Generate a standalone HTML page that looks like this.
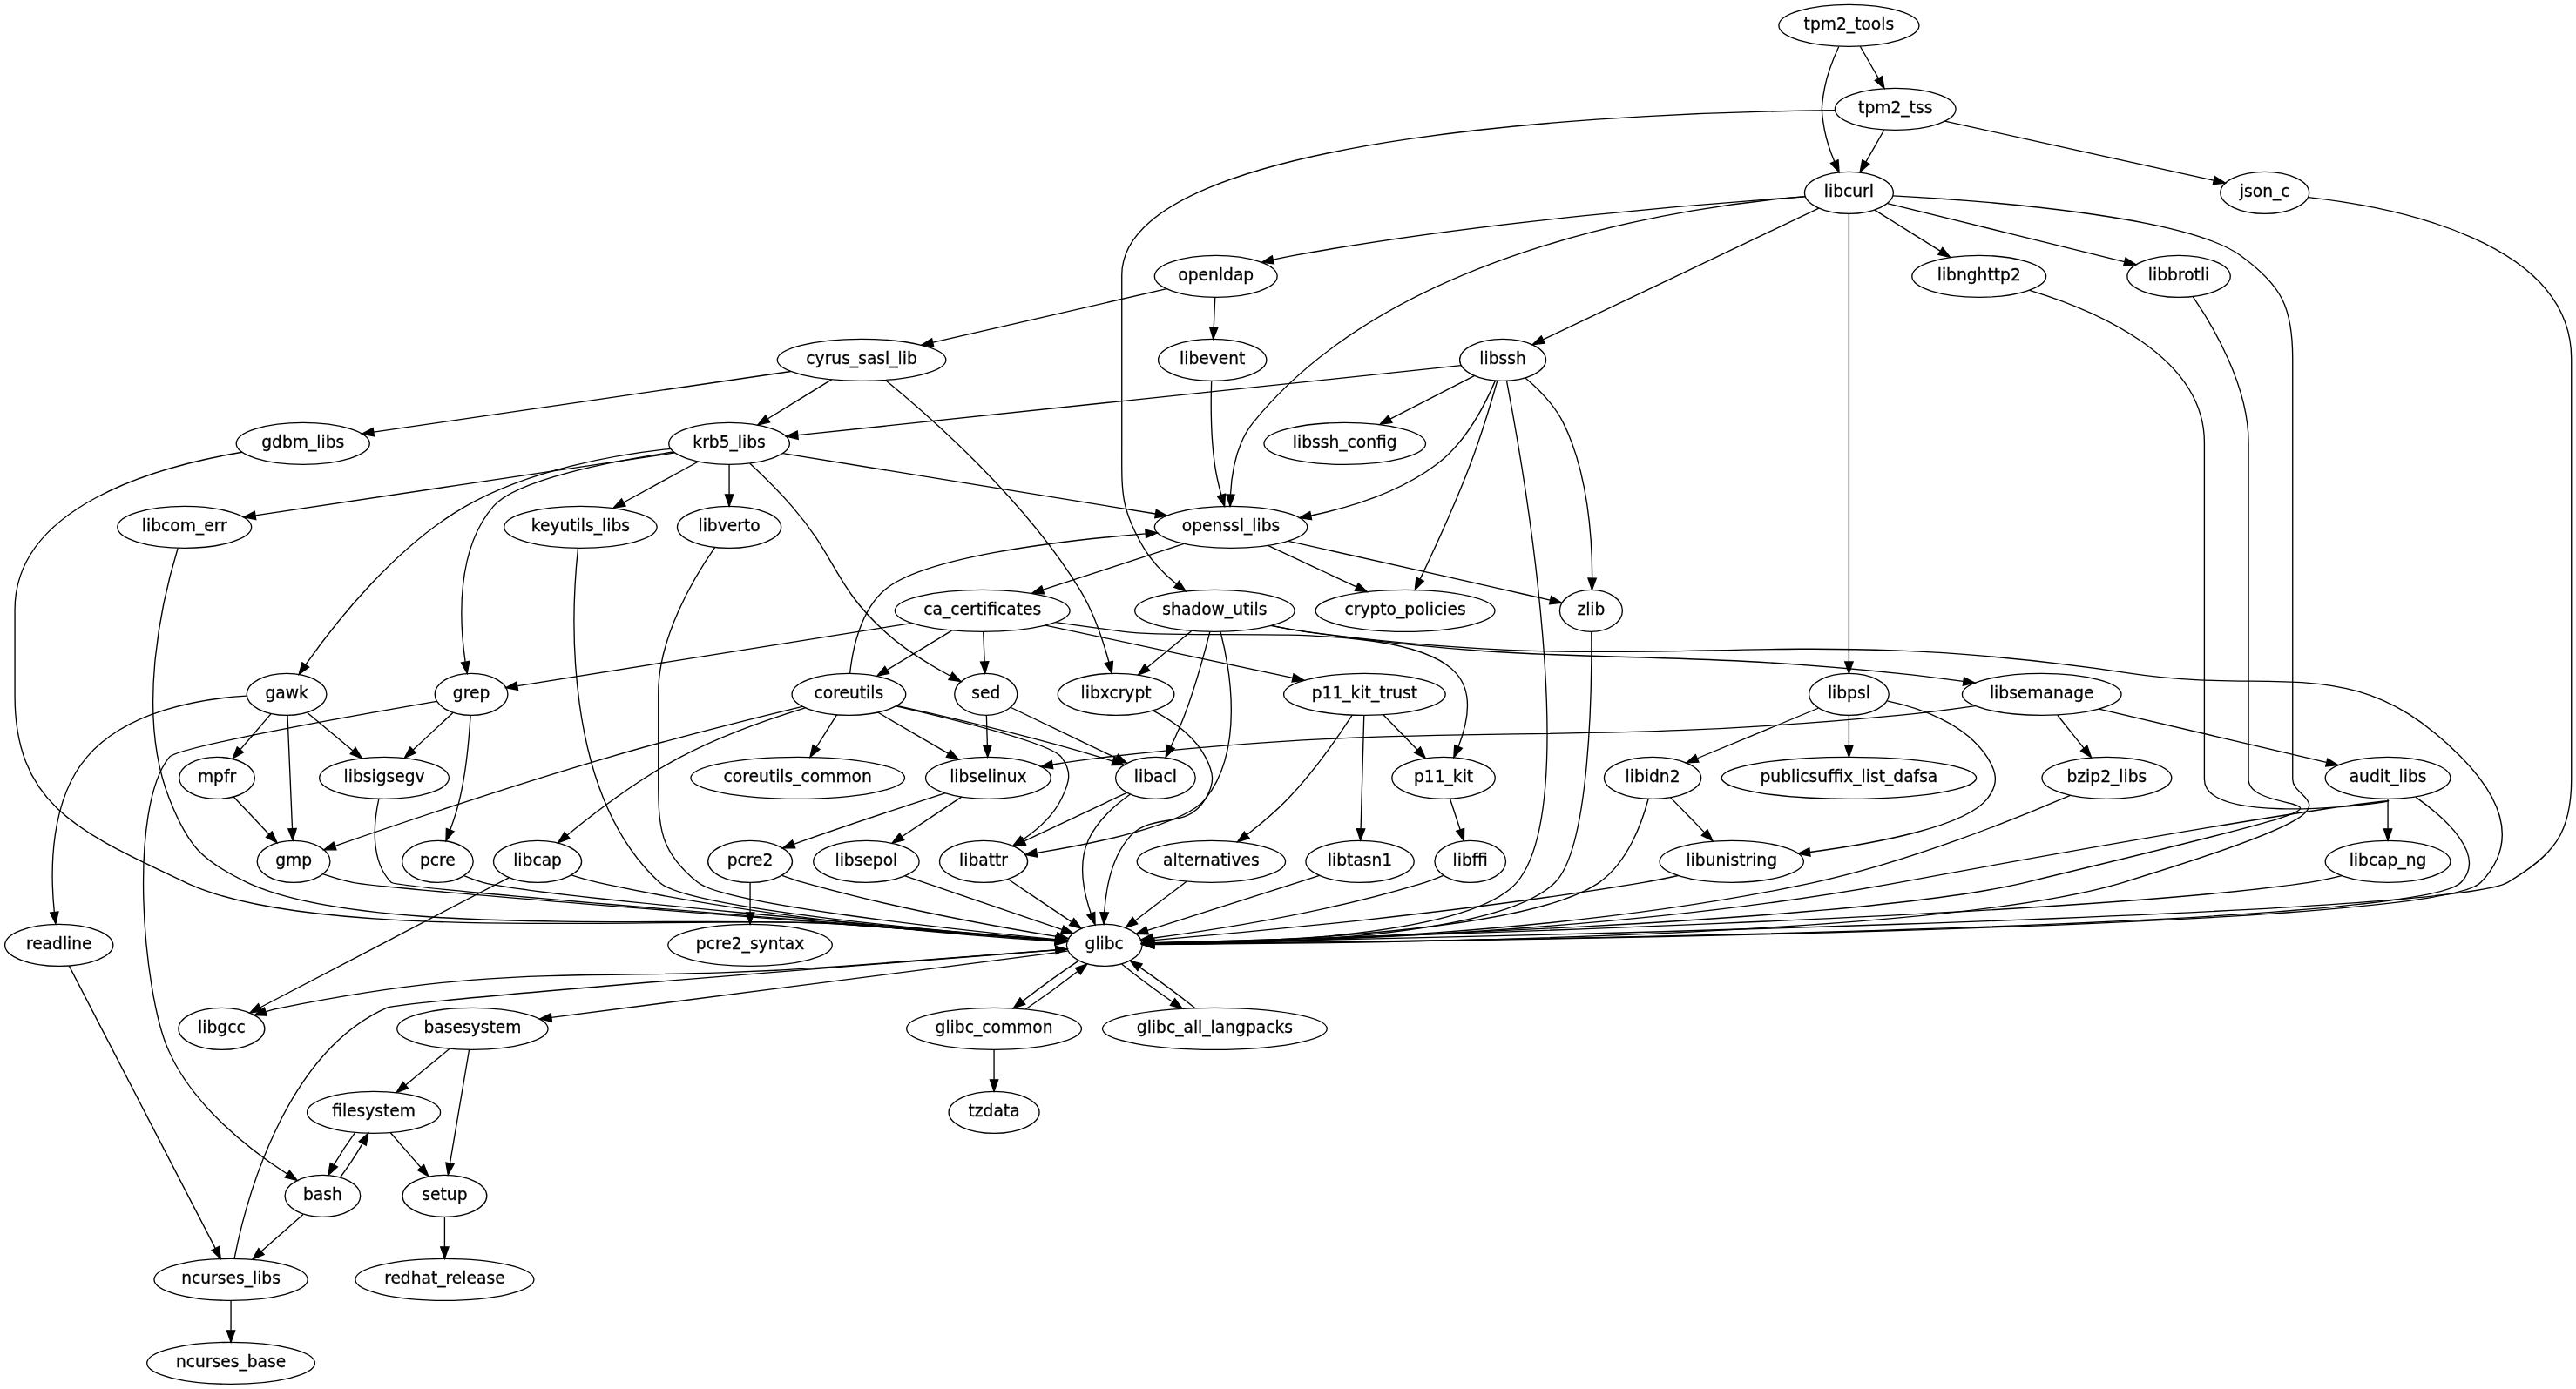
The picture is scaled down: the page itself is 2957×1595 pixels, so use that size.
<!DOCTYPE html>
<html><head><meta charset="utf-8"><title>graph</title>
<style>html,body{margin:0;padding:0;background:#fff}svg{display:block;will-change:transform}text{font-family:"DejaVu Sans","Liberation Sans",sans-serif;font-size:14px;stroke:#000;stroke-width:0.2px}</style>
</head><body>
<svg width="2957" height="1595" viewBox="0 0 2217.75 1196.25">
<g transform="scale(1 1) rotate(0) translate(4 1192)">
<polygon fill="white" stroke="transparent" points="-4,4 -4,-1192 2213.8,-1192 2213.8,4 -4,4"/>
<g>
<ellipse fill="none" stroke="black" cx="1289.8" cy="-882" rx="37.09" ry="18"/>
<text text-anchor="middle" x="1289.8" y="-878.3">libssh</text>
</g>
<g>
<ellipse fill="none" stroke="black" cx="623.8" cy="-810" rx="51.99" ry="18"/>
<text text-anchor="middle" x="623.8" y="-806.3">krb5_libs</text>
</g>
<g>
<path fill="none" stroke="black" d="M1253.99,-877.24C1145.24,-865.81 817.99,-831.41 683,-817.22"/>
<polygon fill="black" stroke="black" points="683.16,-813.72 672.85,-816.16 682.43,-820.68 683.16,-813.72"/>
</g>
<g>
<ellipse fill="none" stroke="black" cx="1055.8" cy="-738" rx="65.79" ry="18"/>
<text text-anchor="middle" x="1055.8" y="-734.3">openssl_libs</text>
</g>
<g>
<path fill="none" stroke="black" d="M1283.25,-863.97C1274.67,-843.86 1257.7,-810.78 1232.8,-792 1201.56,-768.45 1159.91,-755.31 1124.86,-748"/>
<polygon fill="black" stroke="black" points="1125.18,-744.5 1114.69,-746.01 1123.83,-751.37 1125.18,-744.5"/>
</g>
<g>
<ellipse fill="none" stroke="black" cx="1205.8" cy="-666" rx="77.19" ry="18"/>
<text text-anchor="middle" x="1205.8" y="-662.3">crypto_policies</text>
</g>
<g>
<path fill="none" stroke="black" d="M1285.11,-864.07C1279.96,-846.01 1271.17,-816.68 1261.8,-792 1248.6,-757.26 1230.65,-718.36 1218.67,-693.32"/>
<polygon fill="black" stroke="black" points="1221.73,-691.61 1214.23,-684.12 1215.42,-694.65 1221.73,-691.61"/>
</g>
<g>
<ellipse fill="none" stroke="black" cx="946.8" cy="-378" rx="32.49" ry="18"/>
<text text-anchor="middle" x="946.8" y="-374.3">glibc</text>
</g>
<g>
<path fill="none" stroke="black" d="M1293.17,-863.82C1307.32,-789.68 1358.56,-497.86 1301.8,-432 1261.91,-385.72 1074.88,-379.24 989.49,-378.75"/>
<polygon fill="black" stroke="black" points="989.37,-375.25 979.36,-378.71 989.35,-382.25 989.37,-375.25"/>
</g>
<g>
<ellipse fill="none" stroke="black" cx="1153.8" cy="-810" rx="69.59" ry="18"/>
<text text-anchor="middle" x="1153.8" y="-806.3">libssh_config</text>
</g>
<g>
<path fill="none" stroke="black" d="M1265.17,-868.32C1245.03,-857.96 1216.18,-843.11 1192.89,-831.12"/>
<polygon fill="black" stroke="black" points="1194.44,-827.98 1183.95,-826.52 1191.24,-834.21 1194.44,-827.98"/>
</g>
<g>
<ellipse fill="none" stroke="black" cx="1365.8" cy="-666" rx="27" ry="18"/>
<text text-anchor="middle" x="1365.8" y="-662.3">zlib</text>
</g>
<g>
<path fill="none" stroke="black" d="M1309.24,-866.46C1320.62,-856.85 1334.21,-843.23 1341.8,-828 1363.3,-784.81 1366.79,-727.64 1366.74,-694.33"/>
<polygon fill="black" stroke="black" points="1370.23,-693.95 1366.6,-684 1363.23,-694.05 1370.23,-693.95"/>
</g>
<g>
<ellipse fill="none" stroke="black" cx="248.8" cy="-450" rx="31.4" ry="18"/>
<text text-anchor="middle" x="248.8" y="-446.3">gmp</text>
</g>
<g>
<path fill="none" stroke="black" d="M273.89,-439.3C282.04,-436.52 291.2,-433.76 299.8,-432 329.46,-425.93 765.25,-392.7 904.42,-382.19"/>
<polygon fill="black" stroke="black" points="904.97,-385.66 914.68,-381.42 904.44,-378.68 904.97,-385.66"/>
</g>
<g>
<ellipse fill="none" stroke="black" cx="401.8" cy="-594" rx="31.4" ry="18"/>
<text text-anchor="middle" x="401.8" y="-590.3">grep</text>
</g>
<g>
<ellipse fill="none" stroke="black" cx="326.8" cy="-522" rx="55.79" ry="18"/>
<text text-anchor="middle" x="326.8" y="-518.3">libsigsegv</text>
</g>
<g>
<path fill="none" stroke="black" d="M385.89,-578.15C375.97,-568.89 362.99,-556.78 351.72,-546.26"/>
<polygon fill="black" stroke="black" points="353.95,-543.55 344.25,-539.29 349.17,-548.67 353.95,-543.55"/>
</g>
<g>
<ellipse fill="none" stroke="black" cx="273.8" cy="-162" rx="32.49" ry="18"/>
<text text-anchor="middle" x="273.8" y="-158.3">bash</text>
</g>
<g>
<path fill="none" stroke="black" d="M371.97,-587.95C305.23,-576.52 149.14,-548.95 141.8,-540 106.27,-496.71 118.57,-339.4 140.8,-288 161.55,-240.01 210.8,-201.96 243.19,-180.97"/>
<polygon fill="black" stroke="black" points="245.25,-183.8 251.84,-175.51 241.51,-177.89 245.25,-183.8"/>
</g>
<g>
<ellipse fill="none" stroke="black" cx="372.8" cy="-450" rx="30.59" ry="18"/>
<text text-anchor="middle" x="372.8" y="-446.3">pcre</text>
</g>
<g>
<path fill="none" stroke="black" d="M401.04,-575.74C399.98,-557.66 397.49,-528.54 391.8,-504 389.75,-495.2 386.71,-485.85 383.65,-477.49"/>
<polygon fill="black" stroke="black" points="386.82,-475.98 379.99,-467.88 380.28,-478.47 386.82,-475.98"/>
</g>
<g>
<ellipse fill="none" stroke="black" cx="623.8" cy="-738" rx="44.69" ry="18"/>
<text text-anchor="middle" x="623.8" y="-734.3">libverto</text>
</g>
<g>
<path fill="none" stroke="black" d="M611.45,-720.51C593.63,-695 562.8,-643.83 562.8,-595 562.8,-595 562.8,-595 562.8,-521 562.8,-478.66 563.82,-458.56 596.8,-432 620.51,-412.9 817.29,-391.61 904.94,-382.96"/>
<polygon fill="black" stroke="black" points="905.46,-386.43 915.07,-381.97 904.78,-379.46 905.46,-386.43"/>
</g>
<g>
<ellipse fill="none" stroke="black" cx="1486.8" cy="-450" rx="61.99" ry="18"/>
<text text-anchor="middle" x="1486.8" y="-446.3">libunistring</text>
</g>
<g>
<path fill="none" stroke="black" d="M1440.73,-437.87C1430.89,-435.73 1420.53,-433.64 1410.8,-432 1256.42,-405.99 1070.97,-389.07 989.13,-382.32"/>
<polygon fill="black" stroke="black" points="989,-378.8 978.74,-381.47 988.43,-385.77 989,-378.8"/>
</g>
<g>
<ellipse fill="none" stroke="black" cx="402.8" cy="-306" rx="64.99" ry="18"/>
<text text-anchor="middle" x="402.8" y="-302.3">basesystem</text>
</g>
<g>
<ellipse fill="none" stroke="black" cx="317.8" cy="-234" rx="57.39" ry="18"/>
<text text-anchor="middle" x="317.8" y="-230.3">filesystem</text>
</g>
<g>
<path fill="none" stroke="black" d="M383.08,-288.76C371.82,-279.49 357.52,-267.71 345.18,-257.55"/>
<polygon fill="black" stroke="black" points="347.35,-254.8 337.4,-251.15 342.9,-260.21 347.35,-254.8"/>
</g>
<g>
<ellipse fill="none" stroke="black" cx="378.8" cy="-162" rx="36.29" ry="18"/>
<text text-anchor="middle" x="378.8" y="-158.3">setup</text>
</g>
<g>
<path fill="none" stroke="black" d="M399.9,-287.87C395.81,-263.67 388.3,-219.21 383.43,-190.39"/>
<polygon fill="black" stroke="black" points="386.82,-189.47 381.7,-180.19 379.92,-190.63 386.82,-189.47"/>
</g>
<g>
<ellipse fill="none" stroke="black" cx="1039.8" cy="-882" rx="46.59" ry="18"/>
<text text-anchor="middle" x="1039.8" y="-878.3">libevent</text>
</g>
<g>
<path fill="none" stroke="black" d="M1038.99,-863.84C1038.42,-845.85 1038.29,-816.79 1041.8,-792 1043.03,-783.29 1045.19,-773.96 1047.46,-765.6"/>
<polygon fill="black" stroke="black" points="1050.83,-766.55 1050.22,-755.98 1044.1,-764.62 1050.83,-766.55"/>
</g>
<g>
<ellipse fill="none" stroke="black" cx="1587.8" cy="-594" rx="34.39" ry="18"/>
<text text-anchor="middle" x="1587.8" y="-590.3">libpsl</text>
</g>
<g>
<path fill="none" stroke="black" d="M1620.66,-588.32C1648.87,-582.37 1687.89,-569.12 1706.8,-540 1715.51,-526.58 1716.7,-516.57 1706.8,-504 1688.02,-480.16 1611.8,-465.8 1554.3,-458.15"/>
<polygon fill="black" stroke="black" points="1554.52,-454.65 1544.16,-456.84 1553.63,-461.59 1554.52,-454.65"/>
</g>
<g>
<ellipse fill="none" stroke="black" cx="1418.8" cy="-522" rx="41.69" ry="18"/>
<text text-anchor="middle" x="1418.8" y="-518.3">libidn2</text>
</g>
<g>
<path fill="none" stroke="black" d="M1561.39,-582.06C1533.46,-570.49 1489.11,-552.13 1457.29,-538.94"/>
<polygon fill="black" stroke="black" points="1458.43,-535.63 1447.85,-535.03 1455.75,-542.09 1458.43,-535.63"/>
</g>
<g>
<ellipse fill="none" stroke="black" cx="1587.8" cy="-522" rx="109.68" ry="18"/>
<text text-anchor="middle" x="1587.8" y="-518.3">publicsuffix_list_dafsa</text>
</g>
<g>
<path fill="none" stroke="black" d="M1587.8,-575.7C1587.8,-567.98 1587.8,-558.71 1587.8,-550.11"/>
<polygon fill="black" stroke="black" points="1591.3,-550.1 1587.8,-540.1 1584.3,-550.1 1591.3,-550.1"/>
</g>
<g>
<ellipse fill="none" stroke="black" cx="842.8" cy="-450" rx="37.89" ry="18"/>
<text text-anchor="middle" x="842.8" y="-446.3">libattr</text>
</g>
<g>
<path fill="none" stroke="black" d="M863.84,-434.83C879.51,-424.29 901.07,-409.77 918.29,-398.19"/>
<polygon fill="black" stroke="black" points="920.5,-400.92 926.84,-392.43 916.59,-395.11 920.5,-400.92"/>
</g>
<g>
<ellipse fill="none" stroke="black" cx="1587.8" cy="-1026" rx="38.19" ry="18"/>
<text text-anchor="middle" x="1587.8" y="-1022.3">libcurl</text>
</g>
<g>
<path fill="none" stroke="black" d="M1561.87,-1012.65C1508.24,-987.09 1385.08,-928.4 1324.6,-899.58"/>
<polygon fill="black" stroke="black" points="1325.98,-896.37 1315.45,-895.22 1322.97,-902.68 1325.98,-896.37"/>
</g>
<g>
<path fill="none" stroke="black" d="M1587.8,-1007.95C1587.8,-981.29 1587.8,-928.11 1587.8,-883 1587.8,-883 1587.8,-883 1587.8,-737 1587.8,-697 1587.8,-650.65 1587.8,-622.08"/>
<polygon fill="black" stroke="black" points="1591.3,-622.05 1587.8,-612.05 1584.3,-622.05 1591.3,-622.05"/>
</g>
<g>
<ellipse fill="none" stroke="black" cx="1871.8" cy="-954" rx="44.39" ry="18"/>
<text text-anchor="middle" x="1871.8" y="-950.3">libbrotli</text>
</g>
<g>
<path fill="none" stroke="black" d="M1620.93,-1016.83C1671.31,-1004.42 1767.39,-980.73 1824.91,-966.56"/>
<polygon fill="black" stroke="black" points="1825.97,-969.9 1834.84,-964.11 1824.29,-963.1 1825.97,-969.9"/>
</g>
<g>
<ellipse fill="none" stroke="black" cx="1699.8" cy="-954" rx="57.69" ry="18"/>
<text text-anchor="middle" x="1699.8" y="-950.3">libnghttp2</text>
</g>
<g>
<path fill="none" stroke="black" d="M1609.92,-1011.17C1626.03,-1001.1 1648.13,-987.29 1666.38,-975.89"/>
<polygon fill="black" stroke="black" points="1668.36,-978.77 1674.99,-970.51 1664.65,-972.84 1668.36,-978.77"/>
</g>
<g>
<path fill="none" stroke="black" d="M1549.85,-1022.77C1453.47,-1014.93 1198.14,-980.08 1074.8,-828 1060.75,-810.69 1056.42,-785.42 1055.36,-766.23"/>
<polygon fill="black" stroke="black" points="1058.85,-765.91 1055.06,-756.01 1051.85,-766.11 1058.85,-765.91"/>
</g>
<g>
<path fill="none" stroke="black" d="M1625.73,-1023.32C1703.49,-1019.21 1877.63,-1006.34 1924.8,-972 1960.63,-945.91 1969.8,-927.32 1969.8,-883 1969.8,-883 1969.8,-883 1969.8,-521 1969.8,-497.71 2051.47,-501.62 1823.8,-432 1665.32,-383.54 1144.06,-379.16 990.03,-378.94"/>
<polygon fill="black" stroke="black" points="989.59,-375.44 979.58,-378.94 989.58,-382.44 989.59,-375.44"/>
</g>
<g>
<ellipse fill="none" stroke="black" cx="1042.8" cy="-954" rx="52.79" ry="18"/>
<text text-anchor="middle" x="1042.8" y="-950.3">openldap</text>
</g>
<g>
<path fill="none" stroke="black" d="M1550.05,-1022.59C1468.95,-1017.04 1272.25,-1001.47 1109.8,-972 1104.05,-970.96 1098.06,-969.7 1092.14,-968.34"/>
<polygon fill="black" stroke="black" points="1092.82,-964.9 1082.28,-965.98 1091.19,-971.71 1092.82,-964.9"/>
</g>
<g>
<ellipse fill="none" stroke="black" cx="956.8" cy="-594" rx="50.09" ry="18"/>
<text text-anchor="middle" x="956.8" y="-590.3">libxcrypt</text>
</g>
<g>
<path fill="none" stroke="black" d="M988.84,-579.88C1005.48,-571.22 1024.28,-558.1 1033.8,-540 1041.24,-525.84 1042.05,-517.71 1033.8,-504 1016.16,-474.7 986.41,-495.28 965.8,-468 952.44,-450.32 948.01,-425.3 946.74,-406.29"/>
<polygon fill="black" stroke="black" points="950.23,-406 946.32,-396.16 943.24,-406.3 950.23,-406"/>
</g>
<g>
<path fill="none" stroke="black" d="M1883.94,-936.47C1901.47,-910.93 1931.8,-859.71 1931.8,-811 1931.8,-811 1931.8,-811 1931.8,-521 1931.8,-482.15 2114.62,-522.06 1739.8,-432 1595.33,-397.29 1132.72,-383.47 989.48,-379.96"/>
<polygon fill="black" stroke="black" points="989.42,-376.46 979.34,-379.71 989.25,-383.45 989.42,-376.46"/>
</g>
<g>
<path fill="none" stroke="black" d="M575.92,-802.77C522.52,-794.78 440.95,-779.14 420.8,-756 388.47,-718.87 391.45,-657.32 396.58,-622.06"/>
<polygon fill="black" stroke="black" points="400.06,-622.44 398.2,-612.01 393.15,-621.32 400.06,-622.44"/>
</g>
<g>
<path fill="none" stroke="black" d="M623.8,-791.7C623.8,-783.98 623.8,-774.71 623.8,-766.11"/>
<polygon fill="black" stroke="black" points="627.3,-766.1 623.8,-756.1 620.3,-766.1 627.3,-766.1"/>
</g>
<g>
<ellipse fill="none" stroke="black" cx="495.8" cy="-738" rx="65.79" ry="18"/>
<text text-anchor="middle" x="495.8" y="-734.3">keyutils_libs</text>
</g>
<g>
<path fill="none" stroke="black" d="M597.27,-794.5C578.65,-784.31 553.48,-770.55 532.87,-759.28"/>
<polygon fill="black" stroke="black" points="534.51,-756.18 524.06,-754.46 531.15,-762.33 534.51,-756.18"/>
</g>
<g>
<path fill="none" stroke="black" d="M670.03,-801.51C747.26,-788.99 902.72,-763.8 990.89,-749.52"/>
<polygon fill="black" stroke="black" points="991.46,-752.97 1000.77,-747.92 990.34,-746.06 991.46,-752.97"/>
</g>
<g>
<ellipse fill="none" stroke="black" cx="844.8" cy="-594" rx="27" ry="18"/>
<text text-anchor="middle" x="844.8" y="-590.3">sed</text>
</g>
<g>
<path fill="none" stroke="black" d="M641.52,-792.95C652.41,-782.76 666.41,-769.08 677.8,-756 717.01,-710.94 713.69,-688.29 757.8,-648 774.54,-632.7 796.35,-619.43 813.93,-609.99"/>
<polygon fill="black" stroke="black" points="815.96,-612.88 823.21,-605.16 812.73,-606.68 815.96,-612.88"/>
</g>
<g>
<ellipse fill="none" stroke="black" cx="242.8" cy="-594" rx="34.39" ry="18"/>
<text text-anchor="middle" x="242.8" y="-590.3">gawk</text>
</g>
<g>
<path fill="none" stroke="black" d="M573.43,-805.53C525.32,-800.37 452.16,-787.59 396.8,-756 336.09,-721.36 284.36,-655.42 259.18,-619.61"/>
<polygon fill="black" stroke="black" points="261.92,-617.43 253.36,-611.19 256.17,-621.41 261.92,-617.43"/>
</g>
<g>
<ellipse fill="none" stroke="black" cx="154.8" cy="-738" rx="57.69" ry="18"/>
<text text-anchor="middle" x="154.8" y="-734.3">libcom_err</text>
</g>
<g>
<path fill="none" stroke="black" d="M577.11,-802.03C491.83,-789.3 310.9,-762.3 215.92,-748.12"/>
<polygon fill="black" stroke="black" points="216.3,-744.64 205.89,-746.63 215.26,-751.56 216.3,-744.64"/>
</g>
<g>
<path fill="none" stroke="black" d="M1743.33,-942.03C1800.53,-924.7 1893.8,-885.09 1893.8,-811 1893.8,-811 1893.8,-811 1893.8,-521 1893.8,-446.86 2388.19,-571.49 1630.8,-432 1391.32,-387.89 1098.1,-380.43 989.71,-379.22"/>
<polygon fill="black" stroke="black" points="989.54,-375.71 979.51,-379.11 989.47,-382.71 989.54,-375.71"/>
</g>
<g>
<ellipse fill="none" stroke="black" cx="1238.8" cy="-522" rx="44.39" ry="18"/>
<text text-anchor="middle" x="1238.8" y="-518.3">p11_kit</text>
</g>
<g>
<ellipse fill="none" stroke="black" cx="1261.8" cy="-450" rx="30.59" ry="18"/>
<text text-anchor="middle" x="1261.8" y="-446.3">libffi</text>
</g>
<g>
<path fill="none" stroke="black" d="M1244.36,-504.05C1246.99,-496.06 1250.19,-486.33 1253.12,-477.4"/>
<polygon fill="black" stroke="black" points="1256.48,-478.38 1256.28,-467.79 1249.83,-476.2 1256.48,-478.38"/>
</g>
<g>
<ellipse fill="none" stroke="black" cx="1041.8" cy="-666" rx="68.79" ry="18"/>
<text text-anchor="middle" x="1041.8" y="-662.3">shadow_utils</text>
</g>
<g>
<path fill="none" stroke="black" d="M1046.84,-647.71C1055.08,-615.54 1067.37,-545.95 1033.8,-504 1015.74,-481.44 939.19,-465.67 888.65,-457.49"/>
<polygon fill="black" stroke="black" points="889.02,-454.01 878.6,-455.91 887.93,-460.92 889.02,-454.01"/>
</g>
<g>
<path fill="none" stroke="black" d="M1021.65,-648.41C1010.3,-639.06 995.96,-627.25 983.66,-617.12"/>
<polygon fill="black" stroke="black" points="985.86,-614.4 975.92,-610.75 981.41,-619.81 985.86,-614.4"/>
</g>
<g>
<path fill="none" stroke="black" d="M1090.26,-653.15C1099.99,-651.13 1110.18,-649.28 1119.8,-648 1433.42,-606.17 1517.92,-659.11 1830.8,-612 1959.56,-592.61 2023.48,-632.83 2114.8,-540 2148.87,-505.36 2165.38,-467.12 2131.8,-432 2091.55,-389.92 1197.31,-380.82 989.61,-379.28"/>
<polygon fill="black" stroke="black" points="989.44,-375.78 979.41,-379.2 989.39,-382.78 989.44,-375.78"/>
</g>
<g>
<ellipse fill="none" stroke="black" cx="990.8" cy="-522" rx="34.39" ry="18"/>
<text text-anchor="middle" x="990.8" y="-518.3">libacl</text>
</g>
<g>
<path fill="none" stroke="black" d="M1037.68,-648.01C1033.1,-629.91 1025.1,-600.53 1015.8,-576 1012.39,-567.02 1008.09,-557.45 1004.03,-548.95"/>
<polygon fill="black" stroke="black" points="1007.13,-547.33 999.59,-539.89 1000.85,-550.41 1007.13,-547.33"/>
</g>
<g>
<ellipse fill="none" stroke="black" cx="1753.8" cy="-594" rx="68.49" ry="18"/>
<text text-anchor="middle" x="1753.8" y="-590.3">libsemanage</text>
</g>
<g>
<path fill="none" stroke="black" d="M1090.7,-653.21C1100.3,-651.22 1110.33,-649.36 1119.8,-648 1345.16,-615.67 1404.35,-635.6 1630.8,-612 1648.8,-610.12 1668.23,-607.65 1686.21,-605.17"/>
<polygon fill="black" stroke="black" points="1686.91,-608.61 1696.32,-603.76 1685.94,-601.67 1686.91,-608.61"/>
</g>
<g>
<path fill="none" stroke="black" d="M322.13,-503.98C317.76,-483.87 314.36,-450.79 332.8,-432 337.82,-426.88 766.12,-393.08 904.32,-382.3"/>
<polygon fill="black" stroke="black" points="904.82,-385.77 914.52,-381.5 904.28,-378.79 904.82,-385.77"/>
</g>
<g>
<path fill="none" stroke="black" d="M493.64,-719.97C488.09,-667.95 479.21,-509.93 563.8,-432 588.6,-409.15 810.49,-389.51 904.74,-382.13"/>
<polygon fill="black" stroke="black" points="905.09,-385.61 914.79,-381.35 904.55,-378.63 905.09,-385.61"/>
</g>
<g>
<ellipse fill="none" stroke="black" cx="841.8" cy="-666" rx="75.29" ry="18"/>
<text text-anchor="middle" x="841.8" y="-662.3">ca_certificates</text>
</g>
<g>
<path fill="none" stroke="black" d="M780.62,-655.27C689.05,-640.7 518.9,-613.63 441.71,-601.35"/>
<polygon fill="black" stroke="black" points="441.88,-597.83 431.46,-599.72 440.78,-604.75 441.88,-597.83"/>
</g>
<g>
<path fill="none" stroke="black" d="M904.78,-656.06C923.74,-653.41 944.61,-650.54 963.8,-648 1027.3,-639.58 1207.42,-660.04 1249.8,-612 1264.77,-595.02 1259.18,-568.61 1251.56,-548.96"/>
<polygon fill="black" stroke="black" points="1254.74,-547.5 1247.61,-539.66 1248.3,-550.24 1254.74,-547.5"/>
</g>
<g>
<path fill="none" stroke="black" d="M842.54,-647.7C842.87,-639.98 843.27,-630.71 843.63,-622.11"/>
<polygon fill="black" stroke="black" points="847.13,-622.25 844.06,-612.1 840.14,-621.95 847.13,-622.25"/>
</g>
<g>
<ellipse fill="none" stroke="black" cx="1170.8" cy="-594" rx="69.59" ry="18"/>
<text text-anchor="middle" x="1170.8" y="-590.3">p11_kit_trust</text>
</g>
<g>
<path fill="none" stroke="black" d="M896.12,-653.44C954.65,-640.99 1047.6,-621.21 1108.9,-608.17"/>
<polygon fill="black" stroke="black" points="1109.78,-611.56 1118.83,-606.06 1108.32,-604.71 1109.78,-611.56"/>
</g>
<g>
<ellipse fill="none" stroke="black" cx="726.8" cy="-594" rx="48.99" ry="18"/>
<text text-anchor="middle" x="726.8" y="-590.3">coreutils</text>
</g>
<g>
<path fill="none" stroke="black" d="M815.41,-648.94C798.92,-638.9 777.55,-625.89 759.92,-615.16"/>
<polygon fill="black" stroke="black" points="761.46,-612 751.09,-609.79 757.82,-617.98 761.46,-612"/>
</g>
<g>
<ellipse fill="none" stroke="black" cx="851.8" cy="-234" rx="38.99" ry="18"/>
<text text-anchor="middle" x="851.8" y="-230.3">tzdata</text>
</g>
<g>
<ellipse fill="none" stroke="black" cx="641.8" cy="-450" rx="36.29" ry="18"/>
<text text-anchor="middle" x="641.8" y="-446.3">pcre2</text>
</g>
<g>
<path fill="none" stroke="black" d="M669.3,-438.06C675.34,-435.88 681.74,-433.73 687.8,-432 763.57,-410.38 854.19,-393.92 905.67,-385.43"/>
<polygon fill="black" stroke="black" points="906.42,-388.85 915.73,-383.78 905.3,-381.94 906.42,-388.85"/>
</g>
<g>
<ellipse fill="none" stroke="black" cx="641.8" cy="-378" rx="70.69" ry="18"/>
<text text-anchor="middle" x="641.8" y="-374.3">pcre2_syntax</text>
</g>
<g>
<path fill="none" stroke="black" d="M641.8,-431.7C641.8,-423.98 641.8,-414.71 641.8,-406.11"/>
<polygon fill="black" stroke="black" points="645.3,-406.1 641.8,-396.1 638.3,-406.1 645.3,-406.1"/>
</g>
<g>
<ellipse fill="none" stroke="black" cx="194.8" cy="-90" rx="66.09" ry="18"/>
<text text-anchor="middle" x="194.8" y="-86.3">ncurses_libs</text>
</g>
<g>
<path fill="none" stroke="black" d="M257.04,-146.15C246.56,-136.87 232.85,-124.72 220.96,-114.18"/>
<polygon fill="black" stroke="black" points="223.27,-111.55 213.46,-107.54 218.62,-116.79 223.27,-111.55"/>
</g>
<g>
<path fill="none" stroke="black" d="M289.15,-178.36C295.47,-186.8 302.47,-197.5 308.11,-207.18"/>
<polygon fill="black" stroke="black" points="305.11,-209 313.02,-216.05 311.24,-205.61 305.11,-209"/>
</g>
<g>
<path fill="none" stroke="black" d="M1015.29,-723.75C980.92,-712.51 931.38,-696.3 894.03,-684.09"/>
<polygon fill="black" stroke="black" points="894.92,-680.7 884.33,-680.91 892.75,-687.35 894.92,-680.7"/>
</g>
<g>
<path fill="none" stroke="black" d="M1087.61,-722.15C1109.78,-711.81 1139.58,-697.9 1163.71,-686.64"/>
<polygon fill="black" stroke="black" points="1165.41,-689.71 1172.99,-682.31 1162.45,-683.36 1165.41,-689.71"/>
</g>
<g>
<path fill="none" stroke="black" d="M1105.08,-726.01C1152.84,-715.34 1227.3,-698.65 1291.8,-684 1304.45,-681.13 1318.31,-677.95 1330.59,-675.13"/>
<polygon fill="black" stroke="black" points="1331.5,-678.51 1340.46,-672.85 1329.93,-671.69 1331.5,-678.51"/>
</g>
<g>
<ellipse fill="none" stroke="black" cx="1166.8" cy="-450" rx="46.59" ry="18"/>
<text text-anchor="middle" x="1166.8" y="-446.3">libtasn1</text>
</g>
<g>
<path fill="none" stroke="black" d="M1131.94,-437.91C1091.53,-425.05 1025.21,-403.95 983.88,-390.8"/>
<polygon fill="black" stroke="black" points="984.78,-387.41 974.19,-387.72 982.66,-394.09 984.78,-387.41"/>
</g>
<g>
<ellipse fill="none" stroke="black" cx="851.8" cy="-306" rx="75.29" ry="18"/>
<text text-anchor="middle" x="851.8" y="-302.3">glibc_common</text>
</g>
<g>
<path fill="none" stroke="black" d="M851.8,-287.7C851.8,-279.98 851.8,-270.71 851.8,-262.11"/>
<polygon fill="black" stroke="black" points="855.3,-262.1 851.8,-252.1 848.3,-262.1 855.3,-262.1"/>
</g>
<g>
<path fill="none" stroke="black" d="M879.12,-322.89C893.35,-332.55 910.44,-345.02 923.96,-355.55"/>
<polygon fill="black" stroke="black" points="921.85,-358.34 931.86,-361.81 926.2,-352.86 921.85,-358.34"/>
</g>
<g>
<ellipse fill="none" stroke="black" cx="256.8" cy="-810" rx="57.39" ry="18"/>
<text text-anchor="middle" x="256.8" y="-806.3">gdbm_libs</text>
</g>
<g>
<path fill="none" stroke="black" d="M204.5,-802.55C131.74,-790.32 8.8,-756.43 8.8,-667 8.8,-667 8.8,-667 8.8,-593 8.8,-496.1 68.43,-473.9 155.8,-432 269.44,-377.5 596.07,-404.75 721.8,-396 785.61,-391.56 859.55,-385.87 904.74,-382.33"/>
<polygon fill="black" stroke="black" points="905.07,-385.81 914.76,-381.54 904.52,-378.83 905.07,-385.81"/>
</g>
<g>
<path fill="none" stroke="black" d="M197.74,-108C206.92,-154.76 239.91,-284.44 328.8,-324 342,-329.87 767.57,-363.16 904.68,-373.76"/>
<polygon fill="black" stroke="black" points="904.56,-377.26 914.8,-374.54 905.1,-370.28 904.56,-377.26"/>
</g>
<g>
<ellipse fill="none" stroke="black" cx="194.8" cy="-18" rx="72.29" ry="18"/>
<text text-anchor="middle" x="194.8" y="-14.3">ncurses_base</text>
</g>
<g>
<path fill="none" stroke="black" d="M194.8,-71.7C194.8,-63.98 194.8,-54.71 194.8,-46.11"/>
<polygon fill="black" stroke="black" points="198.3,-46.1 194.8,-36.1 191.3,-46.1 198.3,-46.1"/>
</g>
<g>
<path fill="none" stroke="black" d="M866.03,-582.82C889.9,-571.37 929,-552.63 957.06,-539.17"/>
<polygon fill="black" stroke="black" points="958.62,-542.31 966.12,-534.83 955.59,-536 958.62,-542.31"/>
</g>
<g>
<ellipse fill="none" stroke="black" cx="846.8" cy="-522" rx="53.89" ry="18"/>
<text text-anchor="middle" x="846.8" y="-518.3">libselinux</text>
</g>
<g>
<path fill="none" stroke="black" d="M845.29,-575.7C845.51,-567.98 845.78,-558.71 846.02,-550.11"/>
<polygon fill="black" stroke="black" points="849.52,-550.2 846.31,-540.1 842.52,-550 849.52,-550.2"/>
</g>
<g>
<ellipse fill="none" stroke="black" cx="741.8" cy="-450" rx="45.49" ry="18"/>
<text text-anchor="middle" x="741.8" y="-446.3">libsepol</text>
</g>
<g>
<path fill="none" stroke="black" d="M775.19,-437.6C812.27,-424.94 871.92,-404.57 910.23,-391.49"/>
<polygon fill="black" stroke="black" points="911.63,-394.71 919.96,-388.16 909.36,-388.08 911.63,-394.71"/>
</g>
<g>
<ellipse fill="none" stroke="black" cx="1587.8" cy="-1170" rx="60.39" ry="18"/>
<text text-anchor="middle" x="1587.8" y="-1166.3">tpm2_tools</text>
</g>
<g>
<path fill="none" stroke="black" d="M1579.08,-1151.83C1574.42,-1141.69 1569.17,-1128.44 1566.8,-1116 1563.8,-1100.28 1563.8,-1095.72 1566.8,-1080 1568.53,-1070.92 1571.8,-1061.4 1575.24,-1052.98"/>
<polygon fill="black" stroke="black" points="1578.51,-1054.26 1579.3,-1043.69 1572.09,-1051.46 1578.51,-1054.26"/>
</g>
<g>
<ellipse fill="none" stroke="black" cx="1627.8" cy="-1098" rx="51.99" ry="18"/>
<text text-anchor="middle" x="1627.8" y="-1094.3">tpm2_tss</text>
</g>
<g>
<path fill="none" stroke="black" d="M1597.48,-1152.05C1602.2,-1143.8 1607.97,-1133.7 1613.2,-1124.54"/>
<polygon fill="black" stroke="black" points="1616.28,-1126.21 1618.2,-1115.79 1610.2,-1122.73 1616.28,-1126.21"/>
</g>
<g>
<ellipse fill="none" stroke="black" cx="1809.8" cy="-522" rx="55.79" ry="18"/>
<text text-anchor="middle" x="1809.8" y="-518.3">bzip2_libs</text>
</g>
<g>
<path fill="none" stroke="black" d="M1778.33,-506.96C1731.36,-486.69 1639.65,-449.71 1557.8,-432 1347.98,-386.62 1089.68,-379.84 989.4,-379.02"/>
<polygon fill="black" stroke="black" points="989.38,-375.51 979.35,-378.95 989.33,-382.51 989.38,-375.51"/>
</g>
<g>
<ellipse fill="none" stroke="black" cx="1038.8" cy="-450" rx="63.89" ry="18"/>
<text text-anchor="middle" x="1038.8" y="-446.3">alternatives</text>
</g>
<g>
<ellipse fill="none" stroke="black" cx="682.8" cy="-522" rx="92.08" ry="18"/>
<text text-anchor="middle" x="682.8" y="-518.3">coreutils_common</text>
</g>
<g>
<ellipse fill="none" stroke="black" cx="737.8" cy="-882" rx="72.59" ry="18"/>
<text text-anchor="middle" x="737.8" y="-878.3">cyrus_sasl_lib</text>
</g>
<g>
<path fill="none" stroke="black" d="M758.59,-864.5C796.81,-833.16 878.58,-761.25 925.8,-684 937.62,-664.65 945.73,-640.17 950.68,-621.79"/>
<polygon fill="black" stroke="black" points="954.09,-622.56 953.17,-612.01 947.31,-620.84 954.09,-622.56"/>
</g>
<g>
<path fill="none" stroke="black" d="M711.93,-865.12C695.7,-855.15 674.63,-842.21 657.15,-831.48"/>
<polygon fill="black" stroke="black" points="658.74,-828.35 648.39,-826.1 655.08,-834.32 658.74,-828.35"/>
</g>
<g>
<path fill="none" stroke="black" d="M676.88,-872.13C584.53,-858.7 410.11,-833.31 317.75,-819.87"/>
<polygon fill="black" stroke="black" points="318.11,-816.39 307.71,-818.41 317.1,-823.31 318.11,-816.39"/>
</g>
<g>
<path fill="none" stroke="black" d="M1618.11,-1080.05C1613.4,-1071.8 1607.63,-1061.7 1602.39,-1052.54"/>
<polygon fill="black" stroke="black" points="1605.39,-1050.73 1597.39,-1043.79 1599.31,-1054.21 1605.39,-1050.73"/>
</g>
<g>
<path fill="none" stroke="black" d="M1575.81,-1096.97C1419.07,-1095.48 961.8,-1080.39 961.8,-955 961.8,-955 961.8,-955 961.8,-809 961.8,-768.55 960.25,-754.84 980.8,-720 987.77,-708.18 998.32,-697.65 1008.7,-689.15"/>
<polygon fill="black" stroke="black" points="1011.15,-691.68 1016.92,-682.79 1006.87,-686.15 1011.15,-691.68"/>
</g>
<g>
<ellipse fill="none" stroke="black" cx="1945.8" cy="-1026" rx="38.19" ry="18"/>
<text text-anchor="middle" x="1945.8" y="-1022.3">json_c</text>
</g>
<g>
<path fill="none" stroke="black" d="M1670.35,-1087.63C1730.67,-1074.36 1840.47,-1050.19 1901.64,-1036.72"/>
<polygon fill="black" stroke="black" points="1902.74,-1040.06 1911.75,-1034.49 1901.23,-1033.23 1902.74,-1040.06"/>
</g>
<g>
<ellipse fill="none" stroke="black" cx="1041.8" cy="-306" rx="96.68" ry="18"/>
<text text-anchor="middle" x="1041.8" y="-302.3">glibc_all_langpacks</text>
</g>
<g>
<path fill="none" stroke="black" d="M1024.76,-323.88C1011.56,-334.43 993.16,-348.02 977.48,-358.81"/>
<polygon fill="black" stroke="black" points="975.42,-355.98 969.1,-364.49 979.34,-361.78 975.42,-355.98"/>
</g>
<g>
<ellipse fill="none" stroke="black" cx="378.8" cy="-90" rx="76.89" ry="18"/>
<text text-anchor="middle" x="378.8" y="-86.3">redhat_release</text>
</g>
<g>
<ellipse fill="none" stroke="black" cx="182.8" cy="-522" rx="32.49" ry="18"/>
<text text-anchor="middle" x="182.8" y="-518.3">mpfr</text>
</g>
<g>
<path fill="none" stroke="black" d="M197.12,-505.81C206.03,-496.36 217.64,-484.04 227.6,-473.48"/>
<polygon fill="black" stroke="black" points="230.19,-475.84 234.5,-466.16 225.1,-471.03 230.19,-475.84"/>
</g>
<g>
<ellipse fill="none" stroke="black" cx="458.8" cy="-450" rx="37.89" ry="18"/>
<text text-anchor="middle" x="458.8" y="-446.3">libcap</text>
</g>
<g>
<path fill="none" stroke="black" d="M915.2,-372.93C829.15,-361.86 589.22,-330.99 470.75,-315.74"/>
<polygon fill="black" stroke="black" points="471.07,-312.26 460.71,-314.45 470.18,-319.2 471.07,-312.26"/>
</g>
<g>
<path fill="none" stroke="black" d="M924.5,-364.49C910.12,-354.95 891.59,-341.56 876.75,-330.1"/>
<polygon fill="black" stroke="black" points="878.53,-327.04 868.51,-323.62 874.21,-332.55 878.53,-327.04"/>
</g>
<g>
<path fill="none" stroke="black" d="M961.73,-361.81C973.55,-352.24 990.32,-339.73 1005.51,-329.08"/>
<polygon fill="black" stroke="black" points="1007.51,-331.95 1013.75,-323.38 1003.53,-326.19 1007.51,-331.95"/>
</g>
<g>
<ellipse fill="none" stroke="black" cx="186.8" cy="-306" rx="37.09" ry="18"/>
<text text-anchor="middle" x="186.8" y="-302.3">libgcc</text>
</g>
<g>
<path fill="none" stroke="black" d="M914.75,-374.57C871.11,-371.26 790.55,-365.15 721.8,-360 506.69,-343.87 449.29,-366.43 237.8,-324 233.58,-323.15 229.22,-322.06 224.92,-320.84"/>
<polygon fill="black" stroke="black" points="225.64,-317.4 215.05,-317.8 223.58,-324.09 225.64,-317.4"/>
</g>
<g>
<path fill="none" stroke="black" d="M1186.91,-576.41C1195.67,-567.39 1206.65,-556.09 1216.25,-546.21"/>
<polygon fill="black" stroke="black" points="1218.81,-548.6 1223.26,-538.99 1213.79,-543.72 1218.81,-548.6"/>
</g>
<g>
<path fill="none" stroke="black" d="M1170.31,-575.87C1169.63,-551.67 1168.38,-507.21 1167.57,-478.39"/>
<polygon fill="black" stroke="black" points="1171.06,-478.09 1167.28,-468.19 1164.06,-478.28 1171.06,-478.09"/>
</g>
<g>
<path fill="none" stroke="black" d="M1160.05,-575.93C1147.86,-557.23 1126.8,-526.87 1104.8,-504 1094.14,-492.92 1081.17,-482.05 1069.56,-473.06"/>
<polygon fill="black" stroke="black" points="1071.48,-470.13 1061.4,-466.87 1067.25,-475.7 1071.48,-470.13"/>
</g>
<g>
<path fill="none" stroke="black" d="M686.71,-583.5C645.05,-573.43 578.05,-556.71 520.8,-540 435.39,-515.07 336.39,-481.47 284.59,-463.53"/>
<polygon fill="black" stroke="black" points="285.47,-460.13 274.88,-460.16 283.18,-466.74 285.47,-460.13"/>
</g>
<g>
<path fill="none" stroke="black" d="M767.55,-583.91C818.78,-572.09 901.1,-551.57 909.8,-540 919.41,-527.21 916.77,-518.4 909.8,-504 902.76,-489.47 889.59,-477.71 876.78,-468.99"/>
<polygon fill="black" stroke="black" points="878.36,-465.85 868.04,-463.45 874.61,-471.76 878.36,-465.85"/>
</g>
<g>
<path fill="none" stroke="black" d="M727.77,-612.28C729.9,-632.63 736.63,-665.96 757.8,-684 790.81,-712.14 905.17,-726.02 982.23,-732.34"/>
<polygon fill="black" stroke="black" points="982.13,-735.84 992.38,-733.15 982.68,-728.86 982.13,-735.84"/>
</g>
<g>
<path fill="none" stroke="black" d="M716.37,-576.41C711.13,-568.08 704.67,-557.8 698.82,-548.49"/>
<polygon fill="black" stroke="black" points="701.74,-546.56 693.45,-539.96 695.81,-550.29 701.74,-546.56"/>
</g>
<g>
<path fill="none" stroke="black" d="M768.13,-584.15C811.85,-574.48 882.68,-557.97 942.8,-540 946.4,-538.92 950.12,-537.74 953.84,-536.5"/>
<polygon fill="black" stroke="black" points="955.21,-539.73 963.54,-533.18 952.94,-533.11 955.21,-539.73"/>
</g>
<g>
<path fill="none" stroke="black" d="M689.24,-582.41C659.23,-573.22 616.59,-558.49 581.8,-540 545.77,-520.86 508.36,-492.34 484.39,-472.77"/>
<polygon fill="black" stroke="black" points="486.44,-469.92 476.5,-466.25 481.98,-475.32 486.44,-469.92"/>
</g>
<g>
<path fill="none" stroke="black" d="M751.66,-578.5C769.2,-568.26 792.93,-554.42 812.3,-543.12"/>
<polygon fill="black" stroke="black" points="814.26,-546.03 821.14,-537.97 810.73,-539.98 814.26,-546.03"/>
</g>
<g>
<ellipse fill="none" stroke="black" cx="2051.8" cy="-522" rx="53.89" ry="18"/>
<text text-anchor="middle" x="2051.8" y="-518.3">audit_libs</text>
</g>
<g>
<path fill="none" stroke="black" d="M2075.88,-505.49C2101.95,-486.88 2137.03,-455.27 2114.8,-432 2075.17,-390.53 1194.68,-380.97 989.34,-379.3"/>
<polygon fill="black" stroke="black" points="989.27,-375.8 979.24,-379.22 989.22,-382.8 989.27,-375.8"/>
</g>
<g>
<ellipse fill="none" stroke="black" cx="2051.8" cy="-450" rx="53.89" ry="18"/>
<text text-anchor="middle" x="2051.8" y="-446.3">libcap_ng</text>
</g>
<g>
<path fill="none" stroke="black" d="M2051.8,-503.7C2051.8,-495.98 2051.8,-486.71 2051.8,-478.11"/>
<polygon fill="black" stroke="black" points="2055.3,-478.1 2051.8,-468.1 2048.3,-478.1 2055.3,-478.1"/>
</g>
<g>
<path fill="none" stroke="black" d="M301.53,-216.41C295.44,-208.16 288.83,-198.01 283.46,-188.78"/>
<polygon fill="black" stroke="black" points="286.48,-187.01 278.57,-179.96 280.36,-190.4 286.48,-187.01"/>
</g>
<g>
<path fill="none" stroke="black" d="M332.25,-216.41C339.96,-207.57 349.58,-196.53 358.07,-186.79"/>
<polygon fill="black" stroke="black" points="360.93,-188.83 364.86,-178.99 355.65,-184.23 360.93,-188.83"/>
</g>
<g>
<path fill="none" stroke="black" d="M378.8,-143.7C378.8,-135.98 378.8,-126.71 378.8,-118.11"/>
<polygon fill="black" stroke="black" points="382.3,-118.1 378.8,-108.1 375.3,-118.1 382.3,-118.1"/>
</g>
<g>
<path fill="none" stroke="black" d="M1366.09,-647.73C1366.52,-599.04 1364.97,-462.28 1334.8,-432 1287.19,-384.23 1080.34,-378.67 989.66,-378.59"/>
<polygon fill="black" stroke="black" points="989.45,-375.09 979.45,-378.6 989.46,-382.09 989.45,-375.09"/>
</g>
<g>
<path fill="none" stroke="black" d="M1017.46,-432.76C1004.36,-422.8 987.47,-409.95 973.49,-399.31"/>
<polygon fill="black" stroke="black" points="975.3,-396.29 965.22,-393.02 971.06,-401.86 975.3,-396.29"/>
</g>
<g>
<path fill="none" stroke="black" d="M966.02,-509.28C941.88,-497.86 904.94,-480.39 877.8,-467.56"/>
<polygon fill="black" stroke="black" points="879.18,-464.34 868.64,-463.23 876.19,-470.67 879.18,-464.34"/>
</g>
<g>
<path fill="none" stroke="black" d="M969.15,-507.96C955.95,-498.67 940.22,-484.85 932.8,-468 924.01,-448.07 928.92,-423.5 935.23,-405.23"/>
<polygon fill="black" stroke="black" points="938.53,-406.38 938.8,-395.79 931.99,-403.9 938.53,-406.38"/>
</g>
<g>
<path fill="none" stroke="black" d="M1238.6,-437.89C1233.48,-435.72 1228.02,-433.62 1222.8,-432 1141.57,-406.84 1043.03,-391.37 988.39,-384.06"/>
<polygon fill="black" stroke="black" points="988.76,-380.58 978.39,-382.75 987.85,-387.52 988.76,-380.58"/>
</g>
<g>
<path fill="none" stroke="black" d="M487.94,-438.37C495.32,-435.98 503.29,-433.67 510.8,-432 653.1,-400.41 826,-386.44 904.45,-381.4"/>
<polygon fill="black" stroke="black" points="904.67,-384.89 914.43,-380.77 904.23,-377.9 904.67,-384.89"/>
</g>
<g>
<path fill="none" stroke="black" d="M434.18,-436.15C385.22,-410.59 275.61,-353.37 220.21,-324.44"/>
<polygon fill="black" stroke="black" points="221.65,-321.25 211.16,-319.72 218.41,-327.45 221.65,-321.25"/>
</g>
<g>
<path fill="none" stroke="black" d="M1434.23,-505.12C1442.84,-496.24 1453.76,-485.01 1463.41,-475.08"/>
<polygon fill="black" stroke="black" points="1466.02,-477.41 1470.48,-467.8 1461,-472.53 1466.02,-477.41"/>
</g>
<g>
<path fill="none" stroke="black" d="M1415.12,-504.07C1409.67,-483.4 1397.34,-449.11 1372.8,-432 1311.51,-389.28 1084.94,-380.96 989.56,-379.37"/>
<polygon fill="black" stroke="black" points="989.45,-375.87 979.4,-379.22 989.35,-382.87 989.45,-375.87"/>
</g>
<g>
<path fill="none" stroke="black" d="M809.41,-508.92C777.12,-498.39 729.25,-482.56 687.8,-468 685.08,-467.05 682.29,-466.05 679.48,-465.04"/>
<polygon fill="black" stroke="black" points="680.56,-461.71 669.96,-461.57 678.16,-468.28 680.56,-461.71"/>
</g>
<g>
<path fill="none" stroke="black" d="M823.75,-505.64C808.78,-495.65 789.08,-482.52 772.74,-471.63"/>
<polygon fill="black" stroke="black" points="774.33,-468.48 764.06,-465.85 770.44,-474.31 774.33,-468.48"/>
</g>
<g>
<path fill="none" stroke="black" d="M395.47,-437.7C400.72,-435.49 406.36,-433.42 411.8,-432 459.09,-419.68 787.06,-392.05 904.82,-382.4"/>
<polygon fill="black" stroke="black" points="905.21,-385.88 914.89,-381.58 904.64,-378.9 905.21,-385.88"/>
</g>
<g>
<path fill="none" stroke="black" d="M1042.05,-935.7C1041.72,-927.98 1041.33,-918.71 1040.96,-910.11"/>
<polygon fill="black" stroke="black" points="1044.45,-909.95 1040.53,-900.1 1037.46,-910.25 1044.45,-909.95"/>
</g>
<g>
<path fill="none" stroke="black" d="M1000.39,-943.27C948.17,-931.28 859.06,-910.83 799.32,-897.12"/>
<polygon fill="black" stroke="black" points="799.79,-893.64 789.26,-894.81 798.22,-900.46 799.79,-893.64"/>
</g>
<g>
<path fill="none" stroke="black" d="M1983.34,-1021.97C2056.23,-1013.83 2209.8,-984.61 2209.8,-883 2209.8,-883 2209.8,-883 2209.8,-521 2209.8,-474.5 2194.9,-455.53 2154.8,-432 2103.57,-401.95 1198.83,-383.61 989.69,-379.76"/>
<polygon fill="black" stroke="black" points="989.48,-376.26 979.42,-379.57 989.36,-383.26 989.48,-376.26"/>
</g>
<g>
<path fill="none" stroke="black" d="M243.52,-575.87C244.54,-551.67 246.42,-507.21 247.64,-478.39"/>
<polygon fill="black" stroke="black" points="251.14,-478.33 248.07,-468.19 244.15,-478.03 251.14,-478.33"/>
</g>
<g>
<path fill="none" stroke="black" d="M260.61,-578.15C271.91,-568.74 286.75,-556.37 299.51,-545.73"/>
<polygon fill="black" stroke="black" points="302.1,-548.13 307.54,-539.04 297.62,-542.76 302.1,-548.13"/>
</g>
<g>
<path fill="none" stroke="black" d="M229.18,-577.12C221.43,-568.08 211.58,-556.58 202.95,-546.52"/>
<polygon fill="black" stroke="black" points="205.52,-544.14 196.36,-538.82 200.21,-548.69 205.52,-544.14"/>
</g>
<g>
<ellipse fill="none" stroke="black" cx="46.8" cy="-378" rx="46.59" ry="18"/>
<text text-anchor="middle" x="46.8" y="-374.3">readline</text>
</g>
<g>
<path fill="none" stroke="black" d="M208.28,-592.65C168.77,-590.26 105.11,-579.93 70.8,-540 38.75,-502.71 39.18,-441.73 42.74,-406.49"/>
<polygon fill="black" stroke="black" points="46.23,-406.78 43.91,-396.44 39.28,-405.97 46.23,-406.78"/>
</g>
<g>
<path fill="none" stroke="black" d="M2012.14,-437.72C2002.91,-435.47 1993.06,-433.38 1983.8,-432 1787,-402.65 1158.5,-384.51 989.16,-380.07"/>
<polygon fill="black" stroke="black" points="989.23,-376.57 979.14,-379.81 989.05,-383.57 989.23,-376.57"/>
</g>
<g>
<path fill="none" stroke="black" d="M149.13,-719.85C137,-680.2 111.99,-579.78 141.8,-504 157.79,-463.32 169.35,-450.84 208.8,-432 311.91,-382.73 607.82,-404.31 721.8,-396 785.59,-391.35 859.54,-385.72 904.74,-382.25"/>
<polygon fill="black" stroke="black" points="905.05,-385.73 914.76,-381.47 904.52,-378.75 905.05,-385.73"/>
</g>
<g>
<path fill="none" stroke="black" d="M55.61,-359.97C80.49,-311.88 151.41,-174.85 181.27,-117.13"/>
<polygon fill="black" stroke="black" points="184.54,-118.43 186.03,-107.94 178.32,-115.22 184.54,-118.43"/>
</g>
<g>
<path fill="none" stroke="black" d="M1767.35,-576.05C1774.16,-567.54 1782.54,-557.07 1790.05,-547.68"/>
<polygon fill="black" stroke="black" points="1792.85,-549.78 1796.36,-539.79 1787.38,-545.41 1792.85,-549.78"/>
</g>
<g>
<path fill="none" stroke="black" d="M1803,-581.44C1857.01,-568.76 1943.38,-548.47 1998.83,-535.44"/>
<polygon fill="black" stroke="black" points="1999.87,-538.79 2008.81,-533.1 1998.27,-531.98 1999.87,-538.79"/>
</g>
<g>
<path fill="none" stroke="black" d="M1696.65,-584.08C1675.95,-581.12 1652.36,-578.06 1630.8,-576 1328.19,-547.17 1249.95,-573.28 947.8,-540 932.93,-538.36 916.94,-535.97 902.15,-533.49"/>
<polygon fill="black" stroke="black" points="902.59,-530.01 892.14,-531.77 901.41,-536.91 902.59,-530.01"/>
</g>
</g>
</svg>
</body></html>
